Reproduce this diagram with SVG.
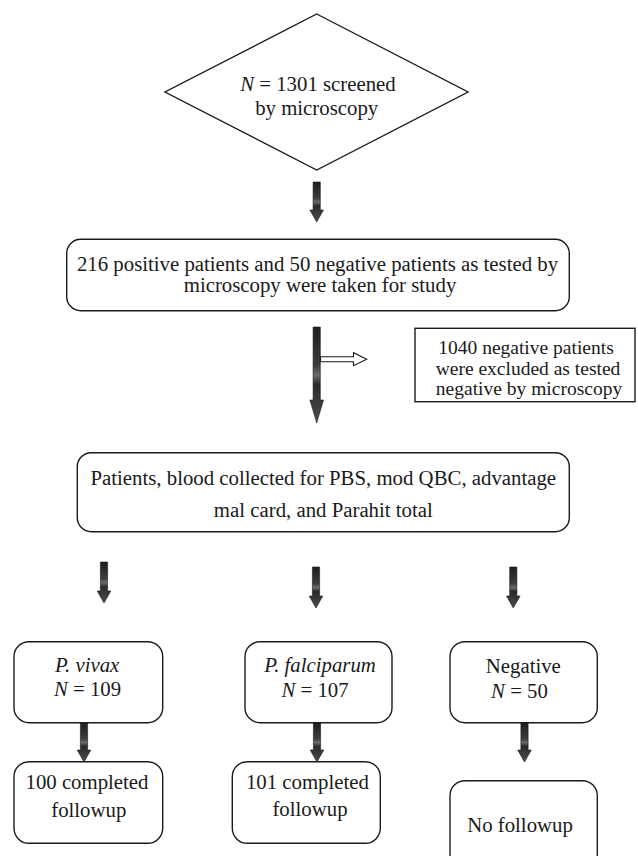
<svg xmlns="http://www.w3.org/2000/svg" width="638" height="856" viewBox="0 0 638 856">
<style>
.box{fill:#fff;stroke:#1a1a1a;stroke-width:1.4}
.t{font-family:'Liberation Serif','Tinos','DejaVu Serif',serif;font-size:20.8px;fill:#1a1a1a;text-anchor:middle}
.s{font-size:19.5px}
.i{font-style:italic}
.arr{fill:url(#ag);stroke:#1a1a1a;stroke-width:0.6}
.hol{fill:#fff;stroke:#1a1a1a;stroke-width:1.1}
</style>
<defs>
<linearGradient id="ag" x1="0" y1="0" x2="0" y2="1">
<stop offset="0" stop-color="#1e1e1e"/>
<stop offset="0.4" stop-color="#3c3c3c"/>
<stop offset="0.5" stop-color="#6a6a6a"/>
<stop offset="0.6" stop-color="#2a2a2a"/>
<stop offset="1" stop-color="#4e4e4e"/>
</linearGradient>
</defs>
<g id="screened">
<polygon class="box" points="316.7,14 468,92 316.7,170 165,92"/>
<text class="t" x="318" y="91" font-family="Liberation Serif"><tspan class="i">N</tspan> = 1301 screened</text>
<text class="t" x="316.7" y="115" font-family="Liberation Serif">by microscopy</text>
</g>
<g id="study">
<rect class="box" x="66.7" y="239.3" width="502.6" height="71.4" rx="14"/>
<text class="t" x="317.5" y="270.5">216 positive patients and 50 negative patients as tested by</text>
<text class="t" x="320" y="291.5">microscopy were taken for study</text>
</g>
<g id="excluded">
<rect class="box" x="415" y="328.3" width="220" height="73.4"/>
<text class="t s" x="526" y="354">1040 negative patients</text>
<text class="t s" x="528" y="374.5">were excluded as tested</text>
<text class="t s" x="529" y="395">negative by microscopy</text>
</g>
<g id="collected">
<rect class="box" x="77.3" y="452.7" width="492" height="79" rx="14"/>
<text class="t" x="323.3" y="485">Patients, blood collected for PBS, mod QBC, advantage</text>
<text class="t" x="323.3" y="516.7">mal card, and Parahit total</text>
</g>
<g id="vivax">
<rect class="box" x="14" y="641.7" width="148.7" height="81" rx="15"/>
<text class="t i" x="87.2" y="671.7">P. vivax</text>
<text class="t" x="87.5" y="696"><tspan class="i">N</tspan> = 109</text>
</g>
<g id="falciparum">
<rect class="box" x="245" y="641.7" width="147" height="81" rx="15"/>
<text class="t i" x="320" y="672">P. falciparum</text>
<text class="t" x="315" y="697"><tspan class="i">N</tspan> = 107</text>
</g>
<g id="negative">
<rect class="box" x="450" y="641.7" width="147.3" height="81" rx="15"/>
<text class="t" x="523.3" y="673.3">Negative</text>
<text class="t" x="519.5" y="698.3"><tspan class="i">N</tspan> = 50</text>
</g>
<g id="vivax-followup">
<rect class="box" x="14" y="761.7" width="148.7" height="81.6" rx="15"/>
<text class="t" x="87" y="788.5">100 completed</text>
<text class="t" x="88.8" y="816.5">followup</text>
</g>
<g id="falciparum-followup">
<rect class="box" x="232.3" y="761.7" width="148" height="81.6" rx="15"/>
<text class="t" x="307.4" y="788.5">101 completed</text>
<text class="t" x="310" y="816">followup</text>
</g>
<g id="no-followup">
<rect class="box" x="450" y="780.7" width="147.3" height="90" rx="15"/>
<text class="t" x="520" y="831.5">No followup</text>
</g>
<g id="connectors">
<polygon class="arr" points="313.1,182 320.3,182 320.3,210 323.5,210 316.7,222 309.9,210 313.1,210"/>
<polygon class="arr" points="313.1,327 320.3,327 320.3,400 323.5,400 316.7,423 309.9,400 313.1,400"/>
<polygon class="hol" points="320.5,356.7 353.5,356.7 353.5,352.7 366.7,359.2 353.5,365.7 353.5,361.7 320.5,361.7"/>
<polygon class="arr" points="100.4,562 107.6,562 107.6,591 110.8,591 104,603 97.2,591 100.4,591"/>
<polygon class="arr" points="312.4,567 319.6,567 319.6,596 322.8,596 316,608 309.2,596 312.4,596"/>
<polygon class="arr" points="509.7,567 516.9,567 516.9,596 520.1,596 513.3,608 506.5,596 509.7,596"/>
<polygon class="arr" points="80.4,723 87.6,723 87.6,750 90.8,750 84,762 77.2,750 80.4,750"/>
<polygon class="arr" points="313.4,723 320.6,723 320.6,750 323.8,750 317,762 310.2,750 313.4,750"/>
<polygon class="arr" points="520.9,723 528.1,723 528.1,750 531.3,750 524.5,762 517.7,750 520.9,750"/>
</g>
</svg>
